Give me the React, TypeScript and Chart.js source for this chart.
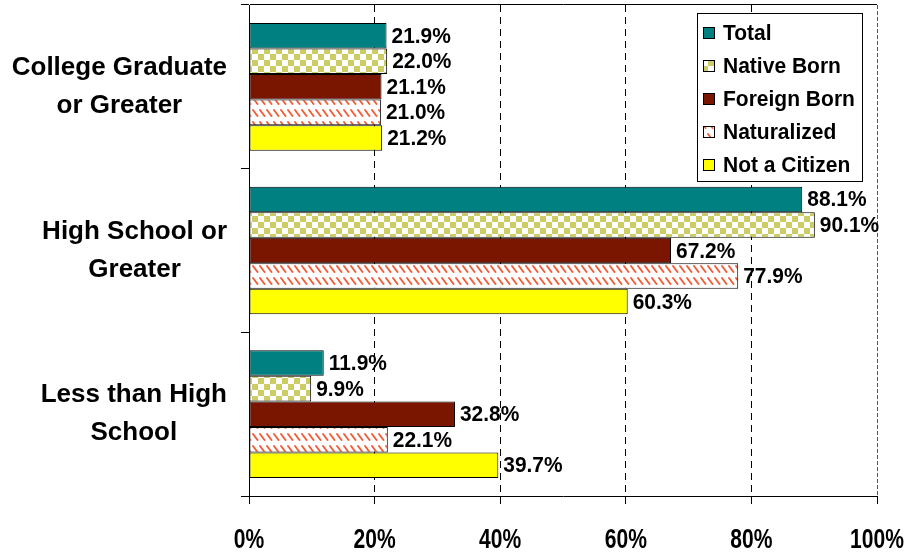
import React, { useEffect, useRef } from "react";
import { Chart, registerables } from "chart.js";

Chart.register(...registerables);

const categories: string[][] = [
  ["College Graduate", "or Greater"],
  ["High School or", "Greater"],
  ["Less than High", "School"],
];
const seriesNames = ["Total", "Native Born", "Foreign Born", "Naturalized", "Not a Citizen"];
const total = [21.9, 88.1, 11.9];
const nativeBorn = [22.0, 90.1, 9.9];
const foreignBorn = [21.1, 67.2, 32.8];
const naturalized = [21.0, 77.9, 22.1];
const notCitizen = [21.2, 60.3, 39.7];
const xTickValues = [0, 20, 40, 60, 80, 100];

const FONT = "'Liberation Sans', Arial, Helvetica, sans-serif";

function drawScaledText(ctx: any, text: string, x: number, y: number, sx: number, align: string) {
  ctx.save();
  ctx.translate(x, y);
  ctx.scale(sx, 1);
  ctx.textAlign = align;
  ctx.fillText(text, 0, 0);
  ctx.restore();
}

export default function App() {
  const ref = useRef<HTMLCanvasElement | null>(null);

  useEffect(() => {
    const canvas = ref.current!;
    const cctx = canvas.getContext("2d")!;

    const checkTile = document.createElement("canvas");
    checkTile.width = 12;
    checkTile.height = 12;
    const g1 = checkTile.getContext("2d")!;
    g1.fillStyle = "#ffffff";
    g1.fillRect(0, 0, 12, 12);
    g1.fillStyle = "#CCCC66";
    g1.fillRect(0, 0, 6, 6);
    g1.fillRect(6, 6, 6, 6);
    const checker = cctx.createPattern(checkTile, "repeat")!;

    const hatchTile = document.createElement("canvas");
    hatchTile.width = 7;
    hatchTile.height = 12;
    const g2 = hatchTile.getContext("2d")!;
    g2.fillStyle = "#ffffff";
    g2.fillRect(0, 0, 7, 12);
    g2.strokeStyle = "#F0603C";
    g2.lineWidth = 2;
    g2.lineCap = "round";
    g2.beginPath();
    g2.moveTo(1, 2);
    g2.lineTo(5.5, 8);
    g2.stroke();
    const hatch = cctx.createPattern(hatchTile, "repeat")!;

    const fills: any[] = ["#008080", checker, "#7A1500", hatch, "#FFFF00"];
    const values = [total, nativeBorn, foreignBorn, naturalized, notCitizen];

    const textPlugin = {
      id: "texts",
      afterDraw(chart: any) {
        const ctx = chart.ctx;
        const ys = chart.scales.y;
        const xs = chart.scales.x;
        ctx.save();
        ctx.fillStyle = "#000";
        ctx.textBaseline = "middle";
        // category labels
        ctx.font = `bold 26px ${FONT}`;
        ctx.textAlign = "center";
        categories.forEach((lines, i) => {
          const yc = ys.getPixelForTick(i);
          const maxW = Math.max(...lines.map((l) => ctx.measureText(l).width));
          const cx = 227 - maxW / 2;
          lines.forEach((l, j) => {
            ctx.fillText(l, cx, yc + (j - (lines.length - 1) / 2) * 38);
          });
        });
        // x tick labels
        ctx.font = `bold 27px ${FONT}`;
        xTickValues.forEach((v) => {
          drawScaledText(ctx, v + "%", xs.getPixelForValue(v), 541, 0.78, "center");
        });
        ctx.restore();
      },
    };

    const valueLabelPlugin = {
      id: "valueLabels",
      afterDatasetsDraw(chart: any) {
        const ctx = chart.ctx;
        ctx.save();
        ctx.font = `bold 22px ${FONT}`;
        ctx.fillStyle = "#000";
        ctx.textBaseline = "middle";
        chart.data.datasets.forEach((ds: any, di: number) => {
          const meta = chart.getDatasetMeta(di);
          meta.data.forEach((bar: any, i: number) => {
            drawScaledText(ctx, ds.data[i].toFixed(1) + "%", bar.x + 5, bar.y + 1, 0.95, "left");
          });
        });
        ctx.restore();
      },
    };

    const legendPlugin = {
      id: "boxLegend",
      afterDraw(chart: any) {
        const ctx = chart.ctx;
        ctx.save();
        ctx.fillStyle = "#fff";
        ctx.fillRect(697, 13, 165, 168);
        ctx.strokeStyle = "#000";
        ctx.lineWidth = 1;
        ctx.strokeRect(697.5, 13.5, 165, 168);
        ctx.font = `bold 22px ${FONT}`;
        ctx.textBaseline = "middle";
        chart.data.datasets.forEach((ds: any, i: number) => {
          const y = 33 + i * 33;
          ctx.fillStyle = ds.backgroundColor;
          ctx.fillRect(703, y - 6, 12, 12);
          ctx.strokeStyle = "#000";
          ctx.strokeRect(703.5, y - 5.5, 11, 11);
          ctx.fillStyle = "#000";
          drawScaledText(ctx, ds.label, 723, y + 1, 0.955, "left");
        });
        ctx.restore();
      },
    };

    const chart = new Chart(canvas, {
      type: "bar",
      data: {
        labels: categories.map((c) => c.join(" ")),
        datasets: seriesNames.map((name, i) => ({
          label: name,
          data: values[i],
          backgroundColor: fills[i],
          borderColor: "#000",
          borderWidth: 1,
          borderSkipped: false,
          categoryPercentage: 0.78,
          barPercentage: 1,
        })),
      },
      options: {
        indexAxis: "y",
        animation: false,
        responsive: true,
        maintainAspectRatio: false,
        layout: { padding: { top: 5, right: 37, left: 0, bottom: 0 } },
        plugins: {
          legend: { display: false },
          tooltip: { enabled: false },
          title: { display: false },
        },
        scales: {
          x: {
            min: 0,
            max: 100,
            afterBuildTicks: (scale: any) => {
              scale.ticks = xTickValues.map((v) => ({ value: v }));
            },
            afterFit: (scale: any) => {
              scale.height = 64;
            },
            ticks: { display: false },
            grid: {
              color: (c: any) =>
                c.index === 0 ? "rgba(0,0,0,0)" : c.index === 5 ? "#555" : "#000",
              tickColor: "#000",
              tickLength: 8,
              lineWidth: 1,
            },
            border: {
              display: true,
              color: "#000",
              width: 1,
              dash: (c: any) =>
                c.type === "tick" ? (c.index === 5 ? [4, 2] : [7, 5]) : [],
            },
          },
          y: {
            afterFit: (scale: any) => {
              scale.width = 249;
            },
            ticks: { display: false },
            grid: {
              offset: true,
              drawOnChartArea: true,
              color: (c: any) => (c.index === 0 ? "#000" : "rgba(0,0,0,0)"),
              tickColor: "#000",
              tickLength: 8,
            },
            border: { display: true, color: "#000", width: 1 },
          },
        },
      },
      plugins: [textPlugin, valueLabelPlugin, legendPlugin],
    } as any);

    return () => chart.destroy();
  }, []);

  return (
    <div style={{ position: "fixed", left: 0, top: 0, width: 914, height: 560, background: "#fff" }}>
      <canvas ref={ref} />
    </div>
  );
}
